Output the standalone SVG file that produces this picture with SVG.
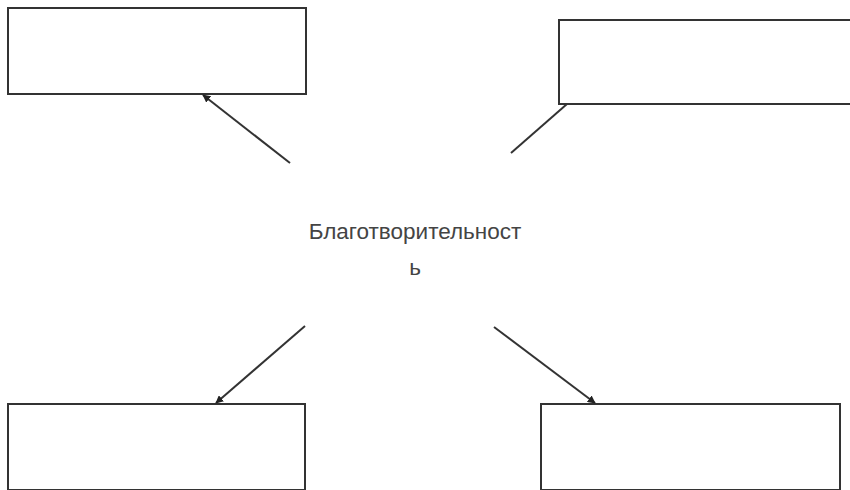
<svg xmlns="http://www.w3.org/2000/svg" width="850" height="490" viewBox="0 0 850 490">
<style>
.box{fill:#fff;stroke:#333;stroke-width:2}
.conn{stroke:#333;stroke-width:2;fill:none}
.lbl{font-family:"Liberation Sans",Arial,sans-serif;font-size:22.5px;fill:#444;text-anchor:middle}
</style>
<defs>
<marker id="ah" viewBox="0 0 10 10" refX="9" refY="5" markerWidth="4" markerHeight="4" orient="auto" markerUnits="strokeWidth">
<path d="M0,0 L10,5 L0,10 z" fill="#222"/>
</marker>
</defs>
<rect width="850" height="490" fill="#fff"/>
<g id="node-tl"><rect class="box" x="8" y="8" width="298" height="86"/></g>
<g id="node-tr"><rect class="box" x="559" y="20" width="300" height="84"/></g>
<g id="node-bl"><rect class="box" x="8" y="404" width="297" height="86"/></g>
<g id="node-br"><rect class="box" x="541" y="404" width="299" height="86"/></g>
<g id="center"><text class="lbl" x="415" y="239">Благотворительност</text><text class="lbl" x="415" y="275">ь</text></g>
<g id="connectors">
<line class="conn" x1="290" y1="163" x2="203" y2="95" marker-end="url(#ah)"/>
<line class="conn" x1="511" y1="153" x2="567" y2="104"/>
<line class="conn" x1="305" y1="326" x2="216" y2="403" marker-end="url(#ah)"/>
<line class="conn" x1="494" y1="327" x2="595" y2="403" marker-end="url(#ah)"/>
</g>
</svg>
